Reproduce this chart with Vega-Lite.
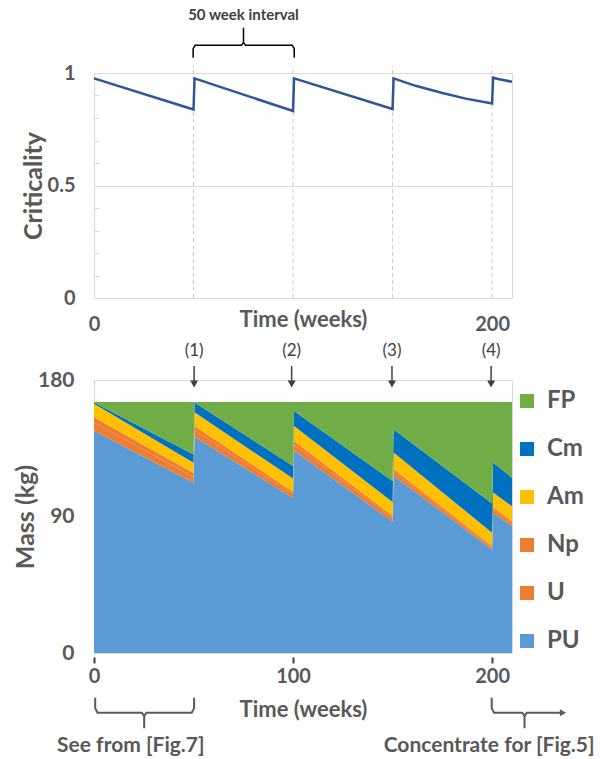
{
  "$schema": "https://vega.github.io/schema/vega-lite/v6.json",
  "background": "white",
  "padding": {"left": 12, "top": 7, "right": 0, "bottom": 0},
  "bounds": "flush",
  "spacing": 82,
  "config": {
    "view": {"stroke": "#d9d9d9", "strokeWidth": 1},
    "axis": {
      "labelFont": "Lato", "labelFontWeight": "bold", "labelColor": "#595959",
      "titleFont": "Lato", "titleFontWeight": "bold", "titleColor": "#595959",
      "domain": false, "grid": false, "gridColor": "#d9d9d9"
    },
    "text": {"font": "Lato"}
  },
  "datasets": {
    "mass": [
      {"t": 0, "PU": 146.6, "U": 5.3, "Np": 3.6, "Am": 8.9, "Cm": 0.8, "FP": 0.3},
      {"t": 50, "PU": 112.3, "U": 3.8, "Np": 2.5, "Am": 6.9, "Cm": 5.3, "FP": 34.7},
      {"t": 50.5, "PU": 142.6, "U": 4.3, "Np": 2.8, "Am": 9.0, "Cm": 6.5, "FP": 0.3},
      {"t": 100, "PU": 102.2, "U": 2.4, "Np": 1.6, "Am": 8.8, "Cm": 8.3, "FP": 42.2},
      {"t": 100.5, "PU": 133.5, "U": 3.8, "Np": 2.5, "Am": 9.9, "Cm": 9.8, "FP": 6.0},
      {"t": 150, "PU": 86.6, "U": 2.2, "Np": 1.5, "Am": 9.3, "Cm": 13.8, "FP": 52.1},
      {"t": 150.5, "PU": 116.8, "U": 2.7, "Np": 1.8, "Am": 10.9, "Cm": 15.4, "FP": 17.9},
      {"t": 200, "PU": 68.2, "U": 1.4, "Np": 0.9, "Am": 8.8, "Cm": 19.2, "FP": 67.0},
      {"t": 200.5, "PU": 92.2, "U": 2.3, "Np": 1.5, "Am": 9.9, "Cm": 19.7, "FP": 39.9},
      {"t": 210, "PU": 83.7, "U": 1.9, "Np": 1.3, "Am": 9.9, "Cm": 18.8, "FP": 49.9}
    ],
    "ranks": [
      {"species": "PU", "k": 1}, {"species": "U", "k": 2}, {"species": "Np", "k": 3},
      {"species": "Am", "k": 4}, {"species": "Cm", "k": 5}, {"species": "FP", "k": 6}
    ]
  },
  "vconcat": [
    {
      "width": 418,
      "height": 225,
      "encoding": {
        "x": {
          "field": "t", "type": "quantitative",
          "scale": {"domain": [0, 210], "nice": false, "zero": false},
          "axis": {
            "values": [0, 200], "ticks": false, "labelPadding": 16, "labelFontSize": 20,
            "labelFlush": false, "labelOverlap": false,
            "title": "Time (weeks)", "titleFontSize": 22, "titleY": 21, "titleBaseline": "middle"
          }
        },
        "y": {
          "field": "v", "type": "quantitative",
          "scale": {"domain": [0, 1], "nice": false},
          "axis": {
            "values": [0, 0.1, 0.2, 0.3, 0.4, 0.5, 0.6, 0.7, 0.8, 0.9, 1],
            "labelExpr": "datum.value == 0 ? '0' : datum.value == 0.5 ? '0.5' : datum.value == 1 ? '1' : ''",
            "tickSize": -5, "tickColor": "#d9d9d9", "labelPadding": 24, "labelFontSize": 20,
            "grid": true, "gridOpacity": {"condition": {"test": "datum.value == 0.5", "value": 1}, "value": 0},
            "title": "Criticality", "titleFontSize": 25, "titleX": -61, "titleY": 112.5,
            "titleAngle": -90, "titleAlign": "center", "titleBaseline": "middle"
          }
        }
      },
      "layer": [
        {
          "data": {"values": [
            {"t": 50, "v": 0, "v2": 1.031}, {"t": 100, "v": 0, "v2": 1.031},
            {"t": 150, "v": 0, "v2": 1.031}, {"t": 200, "v": 0, "v2": 1.031}
          ]},
          "mark": {"type": "rule", "color": "#c8c8c8", "strokeDash": [4, 3], "strokeWidth": 1},
          "encoding": {"y2": {"field": "v2"}}
        },
        {
          "data": {"values": [
            {"t": 0, "v": 0.976}, {"t": 50, "v": 0.838}, {"t": 50.5, "v": 0.976},
            {"t": 100, "v": 0.831}, {"t": 100.5, "v": 0.976}, {"t": 150, "v": 0.840},
            {"t": 150.5, "v": 0.976}, {"t": 161.6, "v": 0.943}, {"t": 175, "v": 0.911},
            {"t": 186.8, "v": 0.886}, {"t": 200, "v": 0.864},
            {"t": 200.5, "v": 0.979}, {"t": 203, "v": 0.973}, {"t": 210, "v": 0.961}
          ]},
          "mark": {"type": "line", "color": "#2F5597", "strokeWidth": 2.5},
          "encoding": {}
        },
        {
          "data": {"values": [
            {"g": "a", "o": 1, "t": 49.8, "v": 1.068}, {"g": "a", "o": 2, "t": 49.8, "v": 1.108},
            {"g": "a", "o": 3, "t": 50.8, "v": 1.123}, {"g": "a", "o": 4, "t": 74.0, "v": 1.123},
            {"g": "a", "o": 5, "t": 75.1, "v": 1.135}, {"g": "a", "o": 6, "t": 75.1, "v": 1.201},
            {"g": "b", "o": 1, "t": 75.1, "v": 1.135}, {"g": "b", "o": 2, "t": 76.2, "v": 1.123},
            {"g": "b", "o": 3, "t": 99.6, "v": 1.123}, {"g": "b", "o": 4, "t": 100.6, "v": 1.108},
            {"g": "b", "o": 5, "t": 100.6, "v": 1.068}
          ]},
          "mark": {"type": "line", "color": "#000000", "strokeWidth": 1.5},
          "encoding": {"detail": {"field": "g"}, "order": {"field": "o", "type": "quantitative"}}
        },
        {
          "data": {"values": [{"t": 75.1, "v": 1.256, "lab": "50 week interval"}]},
          "mark": {"type": "text", "fontSize": 15, "fontWeight": "bold", "color": "#404040", "baseline": "middle"},
          "encoding": {"text": {"field": "lab"}}
        }
      ]
    },
    {
      "width": 418,
      "height": 273,
      "encoding": {
        "x": {
          "field": "t", "type": "quantitative",
          "scale": {"domain": [0, 210], "nice": false, "zero": false},
          "axis": {
            "values": [0, 100, 200], "tickSize": 6, "tickWidth": 2, "tickColor": "#404040",
            "offset": 4, "labelPadding": 3, "labelFontSize": 20, "labelFlush": false,
            "title": "Time (weeks)", "titleFontSize": 22, "titleY": 52, "titleBaseline": "middle"
          }
        },
        "y": {
          "field": "v", "type": "quantitative",
          "scale": {"domain": [0, 180], "nice": false},
          "axis": {
            "values": [0, 90, 180], "ticks": false, "labelPadding": 20, "labelFontSize": 21,
            "title": "Mass (kg)", "titleFontSize": 25, "titleX": -69, "titleY": 136.5,
            "titleAngle": -90, "titleAlign": "center", "titleBaseline": "middle"
          }
        }
      },
      "layer": [
        {
          "data": {"name": "mass"},
          "transform": [
            {"fold": ["PU", "U", "Np", "Am", "Cm", "FP"], "as": ["species", "v"]},
            {"lookup": "species", "from": {"data": {"name": "ranks"}, "key": "species", "fields": ["k"]}}
          ],
          "mark": {"type": "area", "interpolate": "linear"},
          "encoding": {
            "color": {
              "field": "species", "type": "nominal",
              "scale": {
                "domain": ["FP", "Cm", "Am", "Np", "U", "PU"],
                "range": ["#70AD47", "#0070C0", "#FFC000", "#ED7D31", "#ED7D31", "#5B9BD5"]
              },
              "legend": {
                "orient": "none", "legendX": 421, "legendY": 316, "title": null,
                "symbolType": "square", "symbolSize": 196, "symbolStrokeWidth": 0,
                "labelFont": "Lato", "labelFontWeight": "bold", "labelFontSize": 24,
                "labelColor": "#595959", "rowPadding": 24, "labelOffset": 8
              }
            },
            "order": {"field": "k", "type": "quantitative"}
          }
        },
        {
          "data": {"values": [
            {"t": 50.3, "v": 199.3, "lab": "(1)"}, {"t": 99.3, "v": 199.3, "lab": "(2)"},
            {"t": 149.7, "v": 199.3, "lab": "(3)"}, {"t": 199.5, "v": 199.3, "lab": "(4)"}
          ]},
          "mark": {"type": "text", "fontSize": 17, "color": "#404040", "baseline": "middle"},
          "encoding": {"text": {"field": "lab"}}
        },
        {
          "data": {"values": [
            {"t": 50.3, "v": 189.2, "v2": 178.5}, {"t": 99.3, "v": 189.2, "v2": 178.5},
            {"t": 149.7, "v": 189.2, "v2": 178.5}, {"t": 199.5, "v": 189.2, "v2": 178.5}
          ]},
          "mark": {"type": "rule", "color": "#404040", "strokeWidth": 1.5},
          "encoding": {"y2": {"field": "v2"}}
        },
        {
          "data": {"values": [
            {"t": 50.3, "v": 177.4}, {"t": 99.3, "v": 177.4},
            {"t": 149.7, "v": 177.4}, {"t": 199.5, "v": 177.4}
          ]},
          "mark": {"type": "point", "shape": "triangle-down", "filled": true, "color": "#404040", "size": 64, "opacity": 1},
          "encoding": {}
        },
        {
          "data": {"values": [
            {"g": "c1", "o": 1, "t": 0.6, "v": -29.5}, {"g": "c1", "o": 2, "t": 0.6, "v": -36.5},
            {"g": "c1", "o": 3, "t": 1.8, "v": -39.4}, {"g": "c1", "o": 4, "t": 24.0, "v": -39.4},
            {"g": "c1", "o": 5, "t": 25.2, "v": -41.5}, {"g": "c1", "o": 6, "t": 25.2, "v": -49.6},
            {"g": "c2", "o": 1, "t": 25.2, "v": -41.5}, {"g": "c2", "o": 2, "t": 26.4, "v": -39.4},
            {"g": "c2", "o": 3, "t": 49.1, "v": -39.4}, {"g": "c2", "o": 4, "t": 50.3, "v": -36.5},
            {"g": "c2", "o": 5, "t": 50.3, "v": -29.5},
            {"g": "d1", "o": 1, "t": 199.8, "v": -29.5}, {"g": "d1", "o": 2, "t": 199.8, "v": -36.5},
            {"g": "d1", "o": 3, "t": 201.0, "v": -39.4}, {"g": "d1", "o": 4, "t": 215.2, "v": -39.4},
            {"g": "d1", "o": 5, "t": 216.3, "v": -41.5}, {"g": "d1", "o": 6, "t": 216.3, "v": -49.6},
            {"g": "d2", "o": 1, "t": 216.3, "v": -41.5}, {"g": "d2", "o": 2, "t": 217.4, "v": -39.4},
            {"g": "d2", "o": 3, "t": 235.0, "v": -39.4}
          ]},
          "mark": {"type": "line", "color": "#595959", "strokeWidth": 2},
          "encoding": {"detail": {"field": "g"}, "order": {"field": "o", "type": "quantitative"}}
        },
        {
          "data": {"values": [{"t": 235.6, "v": -39.4}]},
          "mark": {"type": "point", "shape": "triangle-right", "filled": true, "color": "#595959", "size": 50, "opacity": 1},
          "encoding": {}
        },
        {
          "data": {"values": [
            {"t": 18.5, "v": -61.4, "lab": "See from [Fig.7]"},
            {"t": 198.5, "v": -61.4, "lab": "Concentrate for [Fig.5]"}
          ]},
          "mark": {"type": "text", "fontSize": 21, "fontWeight": "bold", "color": "#595959", "baseline": "middle"},
          "encoding": {"text": {"field": "lab"}}
        }
      ]
    }
  ]
}
